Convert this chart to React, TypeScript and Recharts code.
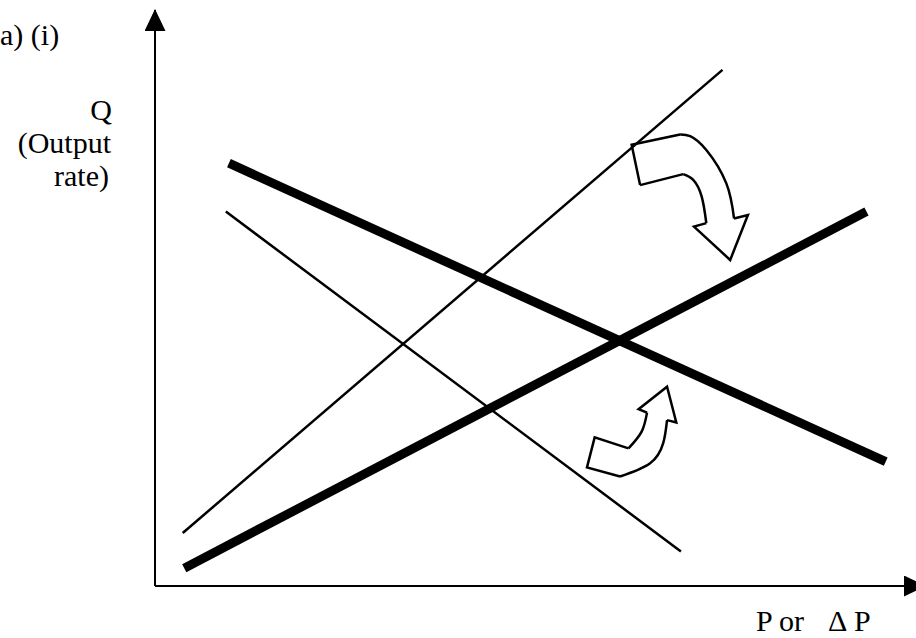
import React from "react";
import { ComposedChart, Line, XAxis, YAxis, Customized } from "recharts";

// straight lines (x = P, y = Q) on a 0-100 scale
const thinRising = [
  { x: 3.6, y: 9.2 },
  { x: 73.7, y: 89.6 },
];
const thinFalling = [
  { x: 9.2, y: 65.0 },
  { x: 68.3, y: 6.0 },
];
const thickFalling = [
  { x: 9.6, y: 73.4 },
  { x: 94.9, y: 21.6 },
];
const thickRising = [
  { x: 3.8, y: 3.1 },
  { x: 92.4, y: 65.0 },
];

// curved arrow turning down (upper one), outline pieces
const downTail = [
  { x: 63.0, y: 69.6 },
  { x: 61.9, y: 76.6 },
  { x: 68.2, y: 78.4 },
];
const downOuter = [
  { x: 68.2, y: 78.4 },
  { x: 69.5, y: 78.1 },
  { x: 71.6, y: 75.7 },
  { x: 74.2, y: 69.9 },
  { x: 75.2, y: 63.8 },
];
const downHead = [
  { x: 75.2, y: 63.8 },
  { x: 77.0, y: 64.4 },
  { x: 74.7, y: 56.6 },
  { x: 70.0, y: 62.4 },
  { x: 71.6, y: 63.0 },
];
const downInner = [
  { x: 71.6, y: 63.0 },
  { x: 71.0, y: 67.6 },
  { x: 69.9, y: 70.5 },
  { x: 68.6, y: 71.5 },
];
const downBase = [
  { x: 68.6, y: 71.5 },
  { x: 63.0, y: 69.6 },
];

// curved arrow turning up (lower one)
const upTail = [
  { x: 61.5, y: 23.9 },
  { x: 57.1, y: 25.8 },
  { x: 56.1, y: 20.6 },
  { x: 60.4, y: 19.0 },
];
const upOuter = [
  { x: 60.4, y: 19.0 },
  { x: 64.3, y: 21.3 },
  { x: 66.0, y: 24.8 },
  { x: 66.5, y: 28.8 },
];
const upHead = [
  { x: 66.5, y: 28.8 },
  { x: 67.7, y: 28.4 },
  { x: 66.5, y: 34.6 },
  { x: 62.8, y: 30.7 },
  { x: 63.9, y: 30.1 },
];
const upInner = [
  { x: 63.9, y: 30.1 },
  { x: 63.2, y: 26.8 },
  { x: 61.5, y: 23.9 },
];

const lines = [
  { data: thinRising, width: 2.5 },
  { data: thinFalling, width: 2.5 },
  { data: thickFalling, width: 9 },
  { data: thickRising, width: 9 },
];

const arrowPieces = [
  { data: downTail, curve: "linear" },
  { data: downOuter, curve: "natural" },
  { data: downHead, curve: "linear" },
  { data: downInner, curve: "natural" },
  { data: downBase, curve: "linear" },
  { data: upTail, curve: "linear" },
  { data: upOuter, curve: "natural" },
  { data: upHead, curve: "linear" },
  { data: upInner, curve: "natural" },
];

const serif = "'Liberation Serif', 'Times New Roman', serif";

function Decorations() {
  return (
    <g>
      <defs>
        <marker
          id="axisHead"
          viewBox="0 0 22 21"
          refX="21"
          refY="10.5"
          markerWidth="22"
          markerHeight="21"
          markerUnits="userSpaceOnUse"
          orient="auto-start-reverse"
        >
          <path d="M0,0 L22,10.5 L0,21 z" fill="#000" />
        </marker>
      </defs>
      <g fontFamily={serif} fontSize={30} fill="#000">
        <text x={0} y={45}>a) (i)</text>
        <text x={112} y={120} textAnchor="end">Q</text>
        <text x={111} y={153} textAnchor="end">(Output</text>
        <text x={109} y={186} textAnchor="end">rate)</text>
        <text y={631}>
          <tspan x={756}>P or</tspan>
          <tspan x={828}>Δ</tspan>
          <tspan x={854}>P</tspan>
        </text>
      </g>
    </g>
  );
}

export default function App() {
  return (
    <div
      style={{
        position: "absolute",
        left: 0,
        top: 0,
        width: 916,
        height: 638,
        overflow: "hidden",
        background: "#fff",
      }}
    >
      <ComposedChart
        width={930}
        height={638}
        margin={{ top: 10, right: 5, bottom: 51, left: 154 }}
      >
        <Customized component={<Decorations />} />
        <XAxis
          type="number"
          dataKey="x"
          domain={[0, 100]}
          allowDataOverflow
          height={1}
          tick={false}
          tickLine={false}
          axisLine={{ stroke: "#000", strokeWidth: 2, markerEnd: "url(#axisHead)" }}
        />
        <YAxis
          type="number"
          dataKey="y"
          domain={[0, 100]}
          allowDataOverflow
          width={1}
          tick={false}
          tickLine={false}
          axisLine={{ stroke: "#000", strokeWidth: 2, markerStart: "url(#axisHead)" }}
        />
        {lines.map((l, i) => (
          <Line
            key={"l" + i}
            data={l.data}
            dataKey="y"
            type="linear"
            stroke="#000"
            strokeWidth={l.width}
            dot={false}
            activeDot={false}
            isAnimationActive={false}
          />
        ))}
        {arrowPieces.map((p, i) => (
          <Line
            key={"a" + i}
            data={p.data}
            dataKey="y"
            type={p.curve as "linear" | "natural"}
            stroke="#000"
            strokeWidth={2.5}
            strokeLinejoin="miter"
            dot={false}
            activeDot={false}
            isAnimationActive={false}
          />
        ))}
      </ComposedChart>
    </div>
  );
}
